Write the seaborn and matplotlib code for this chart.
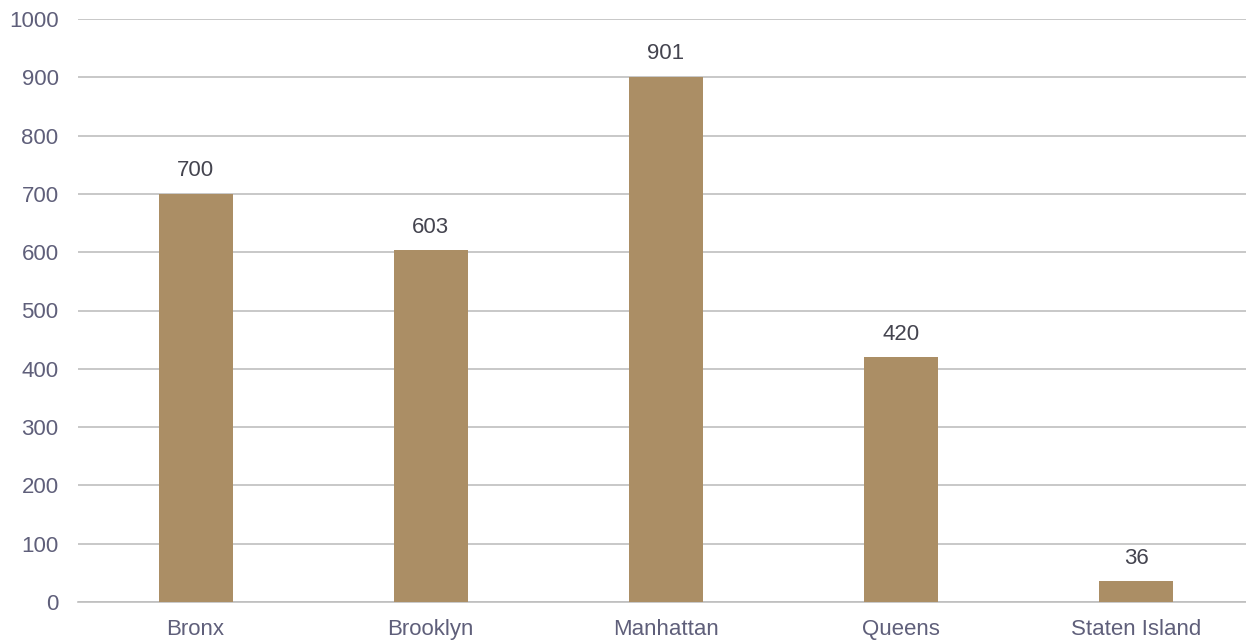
import matplotlib
matplotlib.use("Agg")
import matplotlib.pyplot as plt
import seaborn as sns
import pandas as pd

boroughs = ["Bronx", "Brooklyn", "Manhattan", "Queens", "Staten Island"]
values = [700, 603, 901, 420, 36]
yticks = [0, 100, 200, 300, 400, 500, 600, 700, 800, 900, 1000]

sns.set_theme(style="white")
plt.rcParams["font.family"] = ["Liberation Sans", "DejaVu Sans"]

df = pd.DataFrame({"borough": boroughs, "value": values})

fig = plt.figure(figsize=(12.46, 6.4), dpi=100)
ax = fig.add_axes([78 / 1246, 1 - 602 / 640, (1254 - 78) / 1246, (602 - 19) / 640])

sns.barplot(data=df, x="borough", y="value", color="#AB8E65", saturation=1,
            width=0.315, ax=ax, zorder=3, linewidth=0, edgecolor="none")

ax.set_ylim(0, 1000)
ax.set_xlim(-0.5, 4.5)
ax.set_yticks(yticks)
ax.set_yticklabels([str(t) for t in yticks])
ax.yaxis.grid(True, color="#BFBFBF", linewidth=1.2, zorder=0)
ax.set_axisbelow(True)
for s in ["left", "right", "top"]:
    ax.spines[s].set_visible(False)
ax.spines["bottom"].set_color("#BFBFBF")
ax.spines["bottom"].set_linewidth(1.2)
ax.tick_params(axis="y", length=0, pad=14, labelsize=16, labelcolor="#5F5F7A")
ax.tick_params(axis="x", length=0, pad=12, labelsize=16, labelcolor="#5F5F7A")
ax.set_xlabel("")
ax.set_ylabel("")

for c in ax.containers:
    ax.bar_label(c, labels=[str(v) for v in values], padding=9, fontsize=16, color="#44444F")

fig.savefig("out.png", dpi=100)
